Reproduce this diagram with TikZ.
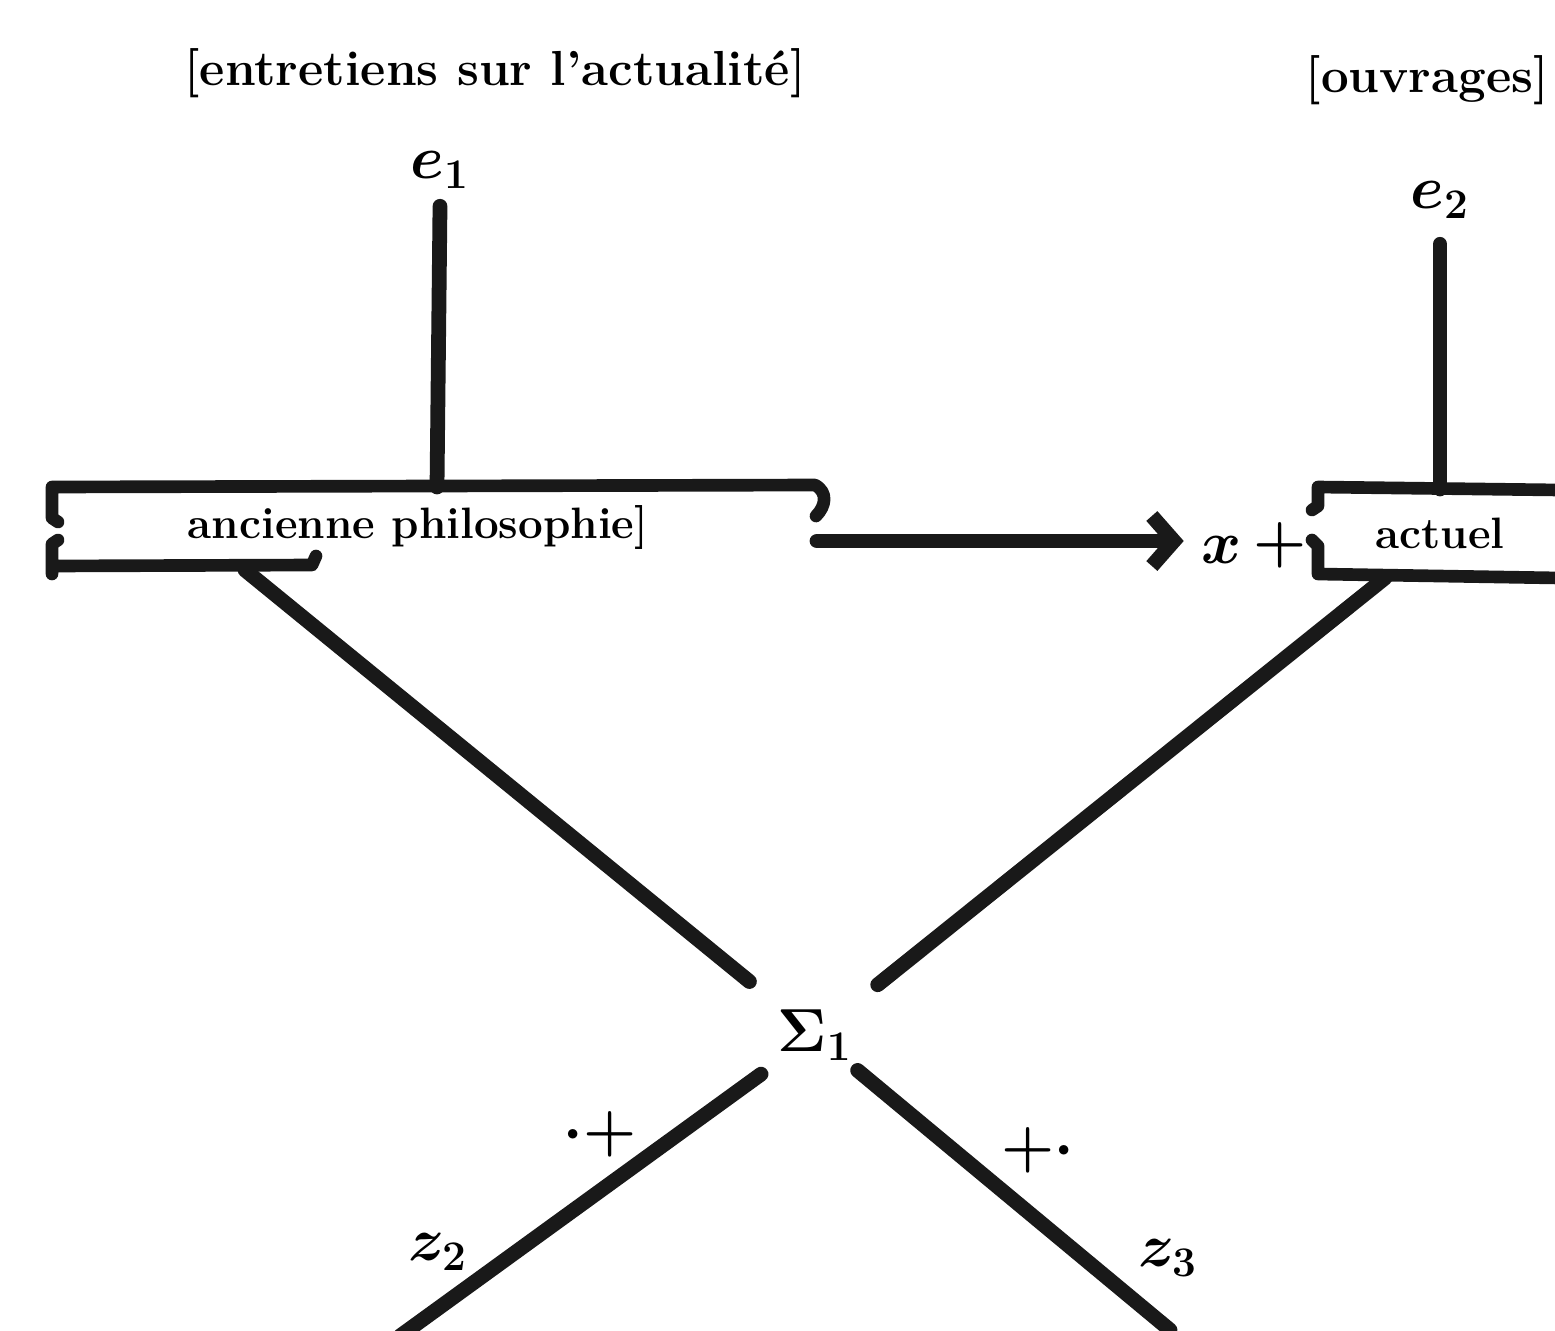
\documentclass[tikz,border=0pt]{standalone}
\usepackage{tikz}
\usetikzlibrary{arrows.meta,calc}

\providecommand{\SKlw}{4.2pt}
\providecommand{\SKtop}{\fontsize{14}{14}\selectfont\bfseries}
\providecommand{\SKtxt}{\fontsize{12.5}{13}\selectfont\bfseries}
\providecommand{\SKsym}{\fontsize{18}{18}\selectfont\bfseries\boldmath}

\tikzset{
  stroke/.style={draw=black!90, line width=\SKlw, line cap=round, line join=round},
  brk/.style={stroke, line width=3.6pt},
  lbl/.style={font=\SKtxt, text=black, inner sep=1pt},
  head/.style={font=\SKtop, text=black, inner sep=1pt},
  sym/.style={font=\SKsym, text=black, inner sep=1pt},
  tip/.style={-{Straight Barb[length=0.22cm, width=0.5cm, line width=\SKlw]}}
}

\begin{document}
\begin{tikzpicture}[x=0.01cm, y=-0.01cm]

\useasboundingbox (0,0) rectangle (1555,1330);
\clip (0,0) rectangle (1555,1330);

% headings
\node (topl) [head] at (495,73) {[entretiens sur l'actualit\'e]};
\node (topr) [head, anchor=east] at (1553,80) {[ouvrages]};

\node (e1) [sym] at (440,170) {$e_1$};
\node (e2) [sym] at (1440,200) {$e_2$};

% left bracket box
\node (old) [lbl] at (418,527) {ancienne philosophie]};
\coordinate (t1) at (437,487);
\coordinate (lb) at (245,570);
\draw[brk] (58,522) -- (52,518) -- (52,487) -- (815,485)
  .. controls (828,492) and (826,506) .. (816,516);
\draw[brk] (58,540) -- (52,544) -- (52,574) -- (52,566) -- (312,565) -- (316,556);

% right bracket box
\node (act) [lbl] at (1440,533) {actuel};
\coordinate (t2) at (1440,489);
\coordinate (rb) at (1385,578);
\draw[brk] (1312,510) -- (1318,506) -- (1318,487) -- (1560,490);
\draw[brk] (1312,540) -- (1318,546) -- (1318,574) -- (1560,578);

% e -> boxes
\draw[stroke] (e1.south) ++(0,14) -- (t1);
\draw[stroke] (e2.south) ++(0,22) -- (t2);

% old -> x + actuel
\coordinate (a0) at (817,541);
\node (x) [sym] at (1222,550) {$x$};
\node (plus) [sym] at (1280,545) {$+$};
\draw[stroke, tip, shorten >=4pt] (a0) -- (x.west |- a0);

% crossing
\node (sig) [sym] at (815,1035) {$\Sigma_1$};
\coordinate (bl) at (400,1336);
\coordinate (br) at (1170,1330);
\draw[stroke] (lb) -- ($(lb)!0.885!(sig)$);
\draw[stroke] (rb) -- ($(rb)!0.89!(sig)$);
\draw[stroke] ($(sig)!0.13!(bl)$) -- (bl);
\draw[stroke] ($(sig)!0.12!(br)$) -- (br);

\node (pl) [sym] at (600,1134) {${\cdot}{+}$};
\node (pr) [sym] at (1038,1150) {${+}{\cdot}$};
\node (z2) [sym] at (438,1252) {$z_2$};
\node (z3) [sym] at (1168,1258) {$z_3$};

\end{tikzpicture}
\end{document}
